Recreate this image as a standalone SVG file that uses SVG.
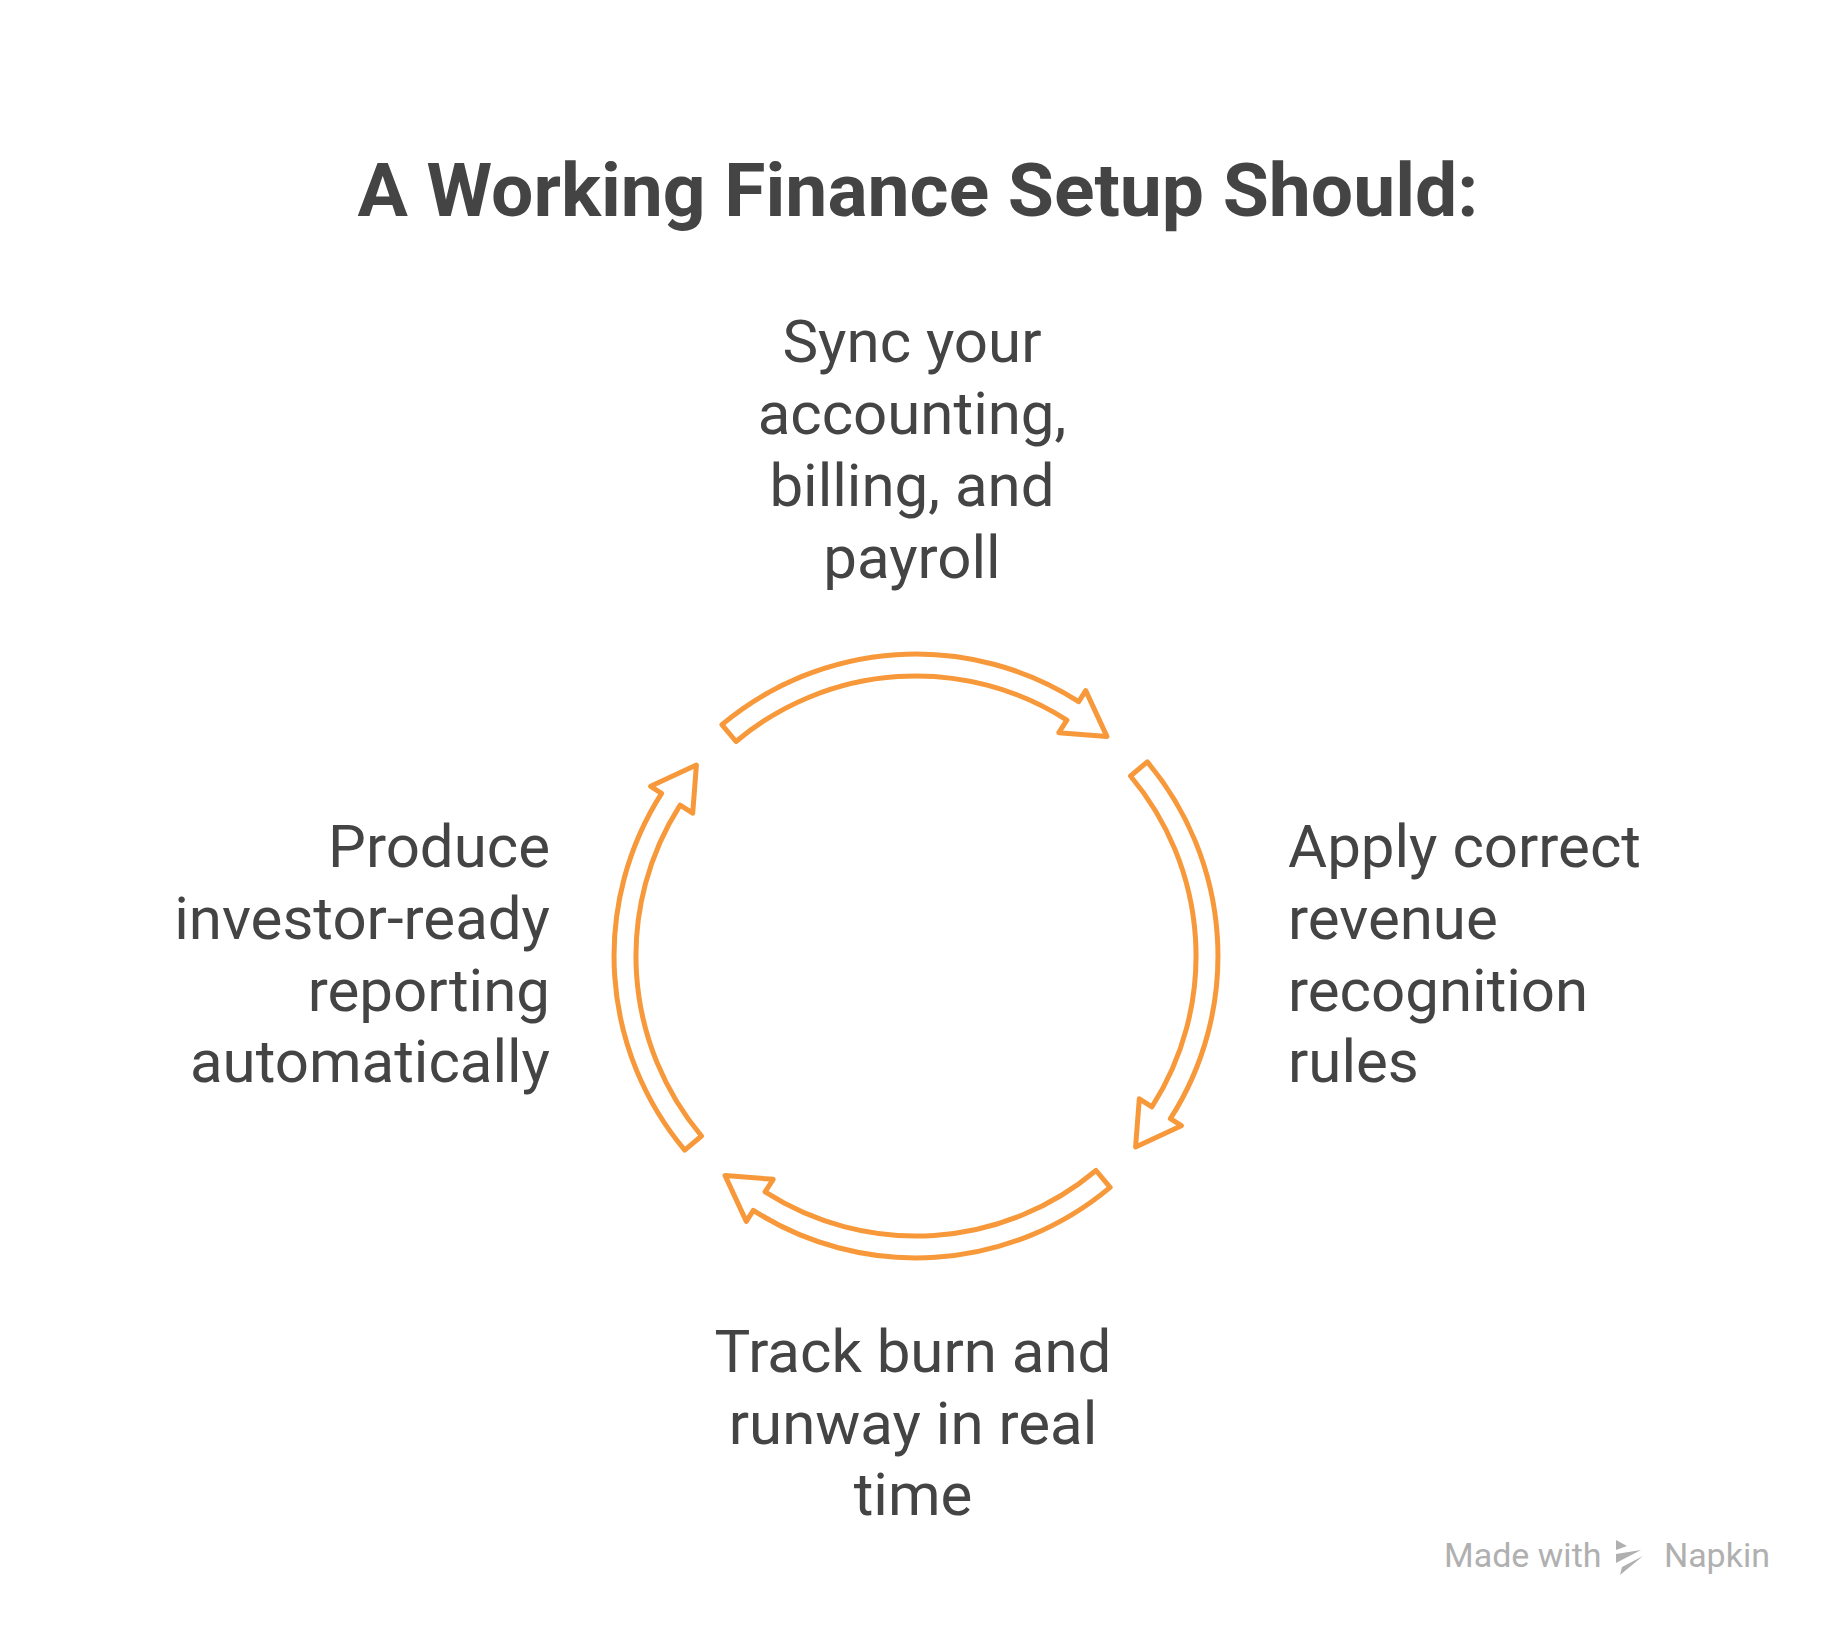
<svg xmlns="http://www.w3.org/2000/svg" width="1836" height="1638" viewBox="0 0 1836 1638">
<style>
.t{font-family:Roboto,"Liberation Sans",sans-serif;fill:#444;font-size:60px}
.h{font-family:Roboto,"Liberation Sans",sans-serif;fill:#444;font-size:75px;font-weight:bold}
.a{fill:#fff;stroke:#F7993A;stroke-width:5;stroke-linejoin:round}
.w{font-family:Roboto,"Liberation Sans",sans-serif;fill:#b0b0b0;font-size:34px}
</style>
<defs>
<path id="arr" class="a" d="M-194.1,-231.3 A302,302 0 0 1 162.7,-254.4 L169.7,-265.4 L190.9,-219.6 L142.8,-223.3 L150.9,-235.9 A280,280 0 0 0 -180,-214.5 Z"/>
</defs>
<rect width="1836" height="1638" fill="#fff"/>
<text class="h" x="918" y="216" text-anchor="middle">A Working Finance Setup Should:</text>
<g id="connectors" transform="translate(916,956)">
<use href="#arr"/>
<use href="#arr" transform="rotate(90)"/>
<use href="#arr" transform="rotate(180)"/>
<use href="#arr" transform="rotate(270)"/>
</g>
<g id="n1"><text class="t" text-anchor="middle"><tspan x="912" y="362">Sync your</tspan><tspan x="912" y="434">accounting,</tspan><tspan x="912" y="506">billing, and</tspan><tspan x="912" y="578">payroll</tspan></text></g>
<g id="n2"><text class="t"><tspan x="1288" y="867">Apply correct</tspan><tspan x="1288" y="939">revenue</tspan><tspan x="1288" y="1011">recognition</tspan><tspan x="1288" y="1082">rules</tspan></text></g>
<g id="n3"><text class="t" text-anchor="middle"><tspan x="913" y="1372">Track burn and</tspan><tspan x="913" y="1444">runway in real</tspan><tspan x="913" y="1515">time</tspan></text></g>
<g id="n4"><text class="t" text-anchor="end"><tspan x="550" y="867">Produce</tspan><tspan x="550" y="939">investor-ready</tspan><tspan x="550" y="1011">reporting</tspan><tspan x="550" y="1082">automatically</tspan></text></g>
<g id="wm">
<text class="w" x="1444" y="1567">Made with</text>
<path d="M1616,1540 L1627,1546 L1616,1550 Z M1616,1554 L1641,1550 L1616,1563 Z M1620,1575 L1643,1556 L1622,1567 Z" fill="#b0b0b0"/>
<text class="w" x="1770" y="1567" text-anchor="end">Napkin</text>
</g>
</svg>
